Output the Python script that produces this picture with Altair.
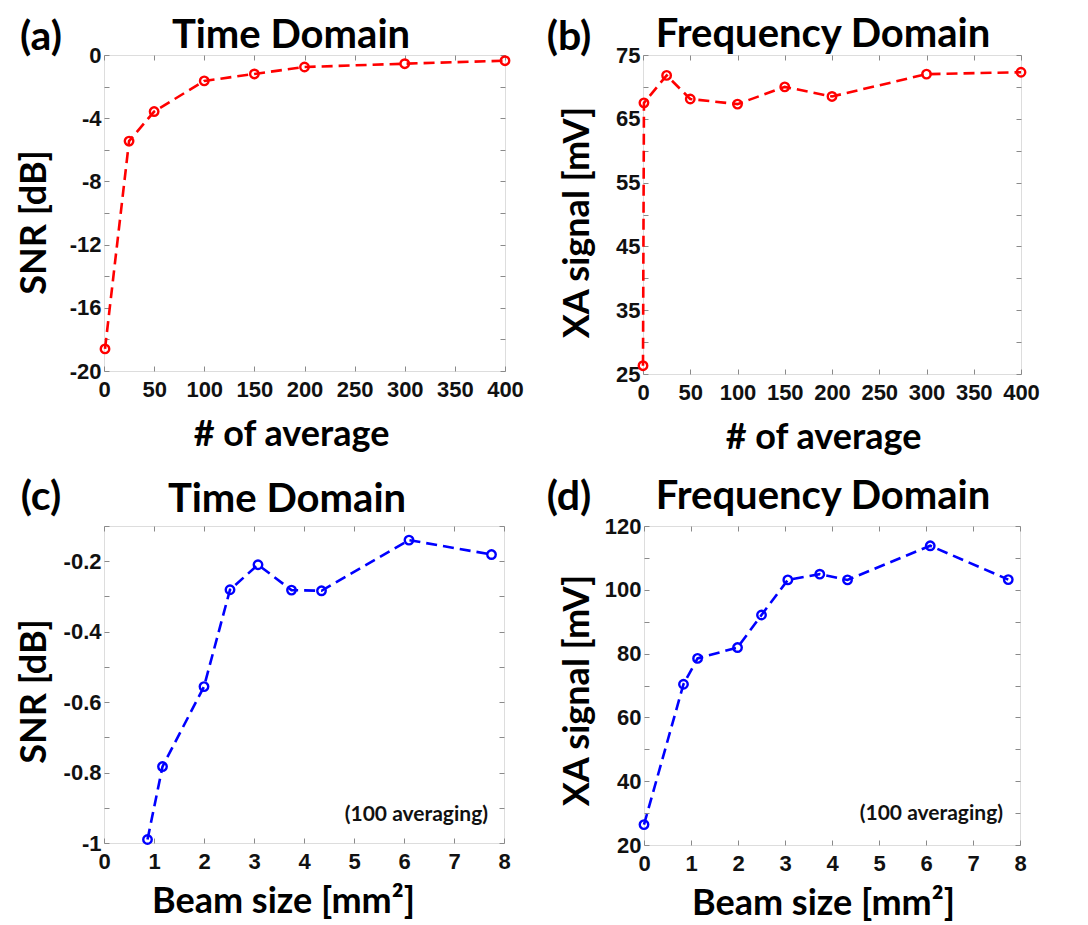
import altair as alt
import pandas as pd

# ---- data ----
a_x = [1, 25, 50, 100, 150, 200, 300, 400]
a_y = [-18.6, -5.45, -3.58, -1.64, -1.2, -0.76, -0.55, -0.36]

b_x = [0, 1, 25, 50, 100, 150, 200, 300, 400]
b_y = [26.3, 67.5, 71.8, 68.1, 67.3, 70.0, 68.5, 72.0, 72.3]

c_x = [0.87, 1.17, 2.0, 2.52, 3.08, 3.75, 4.35, 6.1, 7.75]
c_y = [-0.99, -0.783, -0.556, -0.281, -0.21, -0.282, -0.284, -0.14, -0.181]

d_x = [0, 0.84, 1.14, 1.99, 2.5, 3.06, 3.74, 4.33, 6.09, 7.75]
d_y = [26.4, 70.4, 78.5, 81.9, 92.1, 103.1, 104.9, 103.1, 113.8, 103.2]

titles = ["Time Domain", "Frequency Domain", "Time Domain", "Frequency Domain"]
letters = ["(a)", "(b)", "(c)", "(d)"]
x_titles = ["# of average", "# of average", "Beam size [mm²]", "Beam size [mm²]"]
y_titles = ["SNR [dB]", "XA signal [mV]", "SNR [dB]", "XA signal [mV]"]
note = "(100 averaging)"

x_ticks_avg = list(range(0, 401, 50))
x_ticks_beam = list(range(0, 9))
y_ticks_a = list(range(-20, 1, 2))
y_ticks_b = list(range(25, 76, 5))
y_ticks_c = [round(-1 + 0.1 * i, 1) for i in range(10)]
y_ticks_d = list(range(20, 121, 10))

TITLE_FONT = "Lato"
LABEL_FONT = "Liberation Sans"
GRAY = "#8a8a8a"
TS = 5  # tick size (drawn inward)
FMT = "replace(format(datum.value, '~g'), '−', '-')"


def every(cond):
    return f"({cond}) ? {FMT} : ''"


def panel(xs, ys, color, xdom, ydom, xticks, yticks, yexpr, idx, w, h,
          geo, note_pos=None):
    df = pd.DataFrame({"x": xs, "y": ys, "i": list(range(len(xs)))})
    xscale = alt.Scale(domain=xdom, nice=False, zero=False)
    yscale = alt.Scale(domain=ydom, nice=False, zero=False)
    x_main = alt.Axis(values=xticks, grid=False, domain=False, offset=-TS,
                      tickSize=TS, tickColor=GRAY, labelPadding=8,
                      labelFont=LABEL_FONT, labelFontSize=22, labelFontWeight="bold",
                      labelColor="#111", labelFlush=False, labelExpr=FMT,
                      title=x_titles[idx], titleFont=TITLE_FONT, titleFontSize=36,
                      titleFontWeight="bold", titleColor="black",
                      titleX=geo["xtx"], titleY=geo["xty"] + TS,
                      titleBaseline="alphabetic", titleAlign="center")
    y_main = alt.Axis(values=yticks, grid=False, domain=False, offset=-TS,
                      tickSize=TS, tickColor=GRAY, labelPadding=3,
                      labelFont=LABEL_FONT, labelFontSize=22, labelFontWeight="bold",
                      labelColor="#111", labelFlush=False, labelExpr=yexpr,
                      title=y_titles[idx], titleFont=TITLE_FONT, titleFontSize=36,
                      titleFontWeight="bold", titleColor="black",
                      titleX=geo["ytx"] - TS, titleY=geo["yty"],
                      titleBaseline="alphabetic", titleAlign="center", titleAngle=-90)
    x_sec = alt.Axis(values=xticks, grid=False, domain=False, offset=-TS,
                     tickSize=TS, tickColor=GRAY, labels=False, title=None,
                     orient="top")
    y_sec = alt.Axis(values=yticks, grid=False, domain=False, offset=-TS,
                     tickSize=TS, tickColor=GRAY, labels=False, title=None,
                     orient="right")

    line = alt.Chart(df).mark_line(color=color, strokeWidth=2.6,
                                   strokeDash=[11, 6]).encode(
        x=alt.X("x:Q", scale=xscale, axis=x_main),
        y=alt.Y("y:Q", scale=yscale, axis=y_main),
        order="i:O",
    )
    pts = alt.Chart(df).mark_point(shape="circle", filled=False, color=color,
                                   size=72, strokeWidth=2.4, opacity=1).encode(
        x=alt.X("x:Q", scale=xscale, axis=x_sec),
        y=alt.Y("y:Q", scale=yscale, axis=y_sec),
    )
    ttl = alt.Chart(pd.DataFrame({"t": [titles[idx]]})).mark_text(
        font=TITLE_FONT, fontSize=40, fontWeight="bold", color="black",
        align="center", baseline="middle").encode(
        text="t:N", x=alt.value(geo["tx"]), y=alt.value(geo["ty"]))
    let = alt.Chart(pd.DataFrame({"t": [letters[idx]]})).mark_text(
        font=TITLE_FONT, fontSize=41, fontWeight="bold", color="black",
        align="center", baseline="middle").encode(
        text="t:N", x=alt.value(geo["lx"]), y=alt.value(geo["ly"]))
    layers = [line, pts, ttl, let]
    if note_pos is not None:
        nt = alt.Chart(pd.DataFrame({"t": [note]})).mark_text(
            font=TITLE_FONT, fontSize=21, fontWeight="bold", color="#111",
            align="right", baseline="middle").encode(
            text="t:N", x=alt.value(note_pos[0]), y=alt.value(note_pos[1]))
        layers.append(nt)
    return alt.layer(*layers).resolve_axis(x="independent", y="independent").properties(
        width=w, height=h)


pa = panel(a_x, a_y, "#ff0000", [0, 400], [-20, 0], x_ticks_avg, y_ticks_a,
           every("abs(datum.value) % 4 == 0"), 0, 401, 316,
           dict(xtx=187, xty=74, ytx=-59, yty=167, tx=187, ty=-19, lx=-63, ly=-17))
pb = panel(b_x, b_y, "#ff0000", [0, 400], [25, 75], x_ticks_avg, y_ticks_b,
           every("(datum.value - 25) % 10 == 0"), 1, 378, 319,
           dict(xtx=180, xty=74, ytx=-55, yty=167, tx=180, ty=-20, lx=-74, ly=-17))
pc = panel(c_x, c_y, "#0000ff", [0, 8], [-1, -0.1], x_ticks_beam, y_ticks_c,
           every("round(abs(datum.value) * 10) % 2 == 0"), 2, 400, 317,
           dict(xtx=179, xty=69, ytx=-59, yty=165, tx=183, ty=-26, lx=-63, ly=-28),
           note_pos=(384, 289))
pd_ = panel(d_x, d_y, "#0000ff", [0, 8], [20, 120], x_ticks_beam, y_ticks_d,
            every("datum.value % 20 == 0"), 3, 376, 319,
            dict(xtx=179, xty=69, ytx=-56, yty=164, tx=179, ty=-29, lx=-75, ly=-28),
            note_pos=(359, 288))

row1 = alt.hconcat(pa, pb, spacing=22)
row2 = alt.hconcat(pc, pd_, spacing=35)
chart = alt.vconcat(row1, row2, spacing=20).properties(
    padding={"left": 7, "top": 6, "right": 5, "bottom": 0}
).configure_view(stroke=GRAY, strokeWidth=1.2).configure(background="white")

chart.save("out.html", embed_options={"renderer": "svg", "actions": False})
